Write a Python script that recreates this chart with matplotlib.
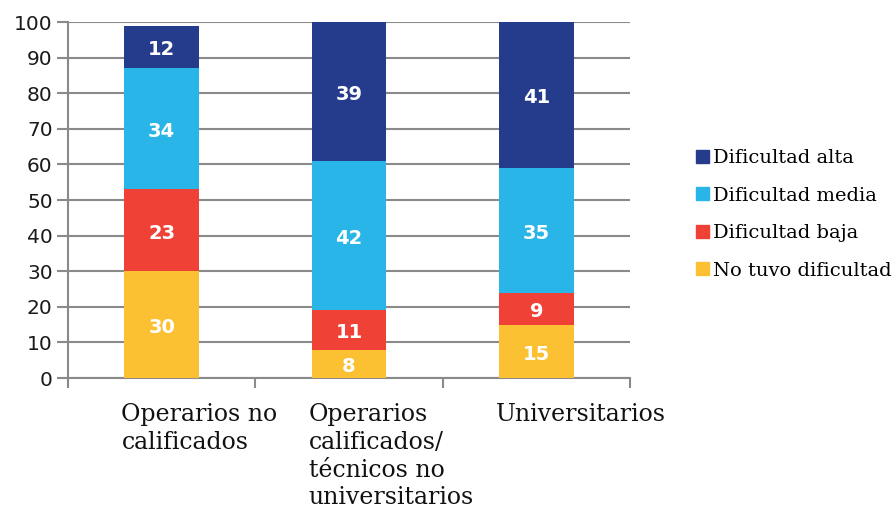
import matplotlib.pyplot as plt
import numpy as np
from matplotlib.patches import Patch

categories = ["Operarios no\ncalificados",
              "Operarios\ncalificados/\ntécnicos no\nuniversitarios",
              "Universitarios"]
series = ["No tuvo dificultad", "Dificultad baja", "Dificultad media", "Dificultad alta"]
no_tuvo = [30, 8, 15]
baja = [23, 11, 9]
media = [34, 42, 35]
alta = [12, 39, 41]
colors = ["#FCC133", "#EF4136", "#29B5E8", "#253C8C"]

values = [no_tuvo, baja, media, alta]

fig = plt.figure(figsize=(8.96, 5.13), dpi=100)
ax = fig.add_axes([68 / 896, 1 - 378 / 513, (630 - 68) / 896, (378 - 22) / 513])

x = np.arange(len(categories))
w = 0.4
bottom = np.zeros(len(categories))
for vals, c in zip(values, colors):
    bars = ax.bar(x, vals, w, bottom=bottom, color=c, zorder=3)
    for bar, v, b in zip(bars, vals, bottom):
        ax.text(bar.get_x() + bar.get_width() / 2, b + v / 2 - 0.8, f"{v}",
                ha="center", va="center", color="white", fontsize=14,
                fontweight="bold", family="DejaVu Sans", zorder=4)
    bottom += np.array(vals)

ax.set_xlim(-0.5, 2.5)
ax.set_ylim(0, 100)
ax.set_yticks(range(0, 101, 10))
ax.tick_params(axis="y", labelsize=14.5, length=8, color="#8a8a8a", width=1.5,
               pad=3, labelcolor="#1a1a1a")
ax.grid(axis="y", color="#8a8a8a", lw=1.5, zorder=0)

# boundary ticks on the x axis, labels placed manually
ax.set_xticks([-0.5, 0.5, 1.5, 2.5])
ax.set_xticklabels([])
ax.tick_params(axis="x", length=7, color="#8a8a8a", width=1.5)
for i, lab in enumerate(categories):
    ax.text(i - w / 2 - 0.015, -7, lab, ha="left", va="top", fontsize=17,
            family="DejaVu Serif", linespacing=1.27, color="#111111",
            transform=ax.transData)

for s in ["top", "right"]:
    ax.spines[s].set_visible(False)
for s in ["left", "bottom"]:
    ax.spines[s].set_color("#8a8a8a")
    ax.spines[s].set_linewidth(1.5)

handles = [Patch(color=c, label=l) for c, l in zip(colors[::-1], series[::-1])]
fig.legend(handles=handles, loc="center left", bbox_to_anchor=(0.768, 0.582),
           frameon=False, prop={"family": "DejaVu Serif", "size": 14},
           handlelength=0.65, handleheight=0.65, handletextpad=0.25,
           labelspacing=1.0, borderaxespad=0)

fig.savefig("out.png", dpi=100)
